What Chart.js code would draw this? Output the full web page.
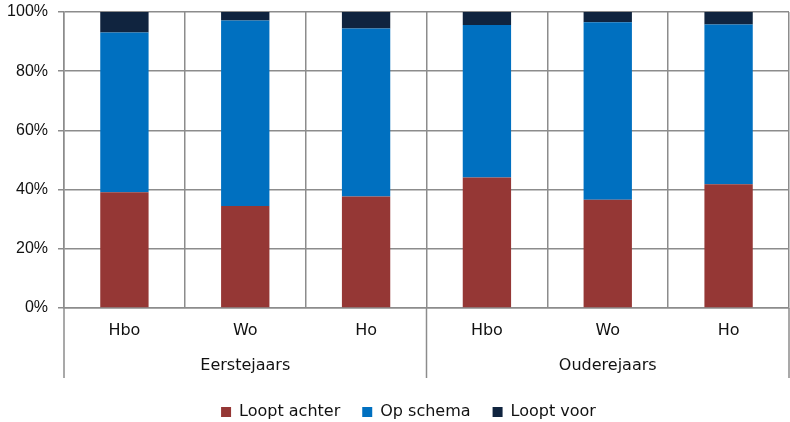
<!DOCTYPE html>
<html>
<head>
<meta charset="utf-8">
<script src="https://cdn.jsdelivr.net/npm/chart.js@4"></script>
<style>
  html, body { margin: 0; padding: 0; background: #fff; }
  #wrap { width: 790px; height: 422px; }
</style>
</head>
<body>
<div id="wrap"><canvas id="barChart"></canvas></div>
<script>
// data (percent)
var categories = ["Hbo", "Wo", "Ho", "Hbo", "Wo", "Ho"];
var groups = ["Eerstejaars", "Ouderejaars"];
var looptAchter = [39.1, 34.5, 37.7, 44.1, 36.6, 41.8];
var opSchema = [54.0, 62.6, 56.7, 51.5, 59.9, 54.0];
var looptVoor = [6.9, 2.9, 5.6, 4.4, 3.5, 4.2];
var yTicks = [0, 20, 40, 60, 80, 100];

var gridGray = "#8c8c8c";
var labelFont = "'DejaVu Sans', sans-serif";

// draws the second row of x labels (groups) and the long separator lines
var groupLabels = {
	id: "groupLabels",
	afterLayout: function(chart) {
		// legend in the original sits a bit right of centre
		chart.legend.left += 14;
		chart.legend.right += 14;
	},
	afterDraw: function(chart) {
		var ctx = chart.ctx;
		var x = chart.scales.x;
		var area = chart.chartArea;
		var per = categories.length / groups.length;
		var lineBottom = 378;

		ctx.save();
		ctx.strokeStyle = gridGray;
		ctx.lineWidth = 1.5;
		for (var g = 0; g <= groups.length; g++) {
			var xp;
			if (g == 0) xp = area.left;
			else if (g == groups.length) xp = area.right;
			else xp = (x.getPixelForValue(g * per - 1) + x.getPixelForValue(g * per)) / 2;
			ctx.beginPath();
			ctx.moveTo(xp, area.bottom);
			ctx.lineTo(xp, lineBottom);
			ctx.stroke();
		}

		ctx.fillStyle = "#111";
		ctx.font = "16px " + labelFont;
		ctx.textAlign = "center";
		ctx.textBaseline = "middle";
		for (var i = 0; i < groups.length; i++) {
			var first = x.getPixelForValue(i * per);
			var last = x.getPixelForValue(i * per + per - 1);
			ctx.fillText(groups[i], (first + last) / 2, 366);
		}
		ctx.restore();
	}
};

var chartdata = {
	labels: categories,
	datasets: [
		{
			label: "Loopt achter",
			backgroundColor: "#953735",
			data: looptAchter
		},
		{
			label: "Op schema",
			backgroundColor: "#0070C0",
			data: opSchema
		},
		{
			label: "Loopt voor",
			backgroundColor: "#10243F",
			data: looptVoor
		}
	]
};

var ctx = document.getElementById("barChart");

var barGraph = new Chart(ctx, {
	type: "bar",
	data: chartdata,
	plugins: [groupLabels],
	options: {
		responsive: true,
		maintainAspectRatio: false,
		animation: false,
		datasets: {
			bar: { categoryPercentage: 1.0, barPercentage: 0.4 }
		},
		layout: {
			padding: { top: 12, left: 0, right: 1, bottom: -8 }
		},
		plugins: {
			tooltip: { enabled: false },
			legend: {
				position: "bottom",
				labels: {
					boxWidth: 10,
					boxHeight: 10,
					padding: 22,
					color: "#111",
					font: { family: labelFont, size: 16 }
				}
			}
		},
		scales: {
			x: {
				stacked: true,
				grid: {
					offset: true,
					color: gridGray,
					lineWidth: 1.5,
					drawTicks: false
				},
				border: { color: gridGray, width: 1.5 },
				ticks: {
					padding: 13,
					color: "#111",
					font: { family: labelFont, size: 16 }
				},
				afterFit: function(scale) { scale.height = 74; }
			},
			y: {
				stacked: true,
				min: 0,
				max: 100,
				afterBuildTicks: function(scale) {
					scale.ticks = yTicks.map(function(v) { return { value: v }; });
				},
				grid: {
					color: gridGray,
					lineWidth: 1.5,
					tickLength: 6
				},
				border: { color: gridGray, width: 1.5 },
				ticks: {
					padding: 10,
					color: "#111",
					font: { family: "'Liberation Sans', Arial, sans-serif", size: 16 },
					callback: function(v) { return v + "%"; }
				},
				afterFit: function(scale) {
					scale.width = 64;
					scale.paddingTop = 0;
					scale.paddingBottom = 0;
				}
			}
		}
	}
});
</script>
</body>
</html>
